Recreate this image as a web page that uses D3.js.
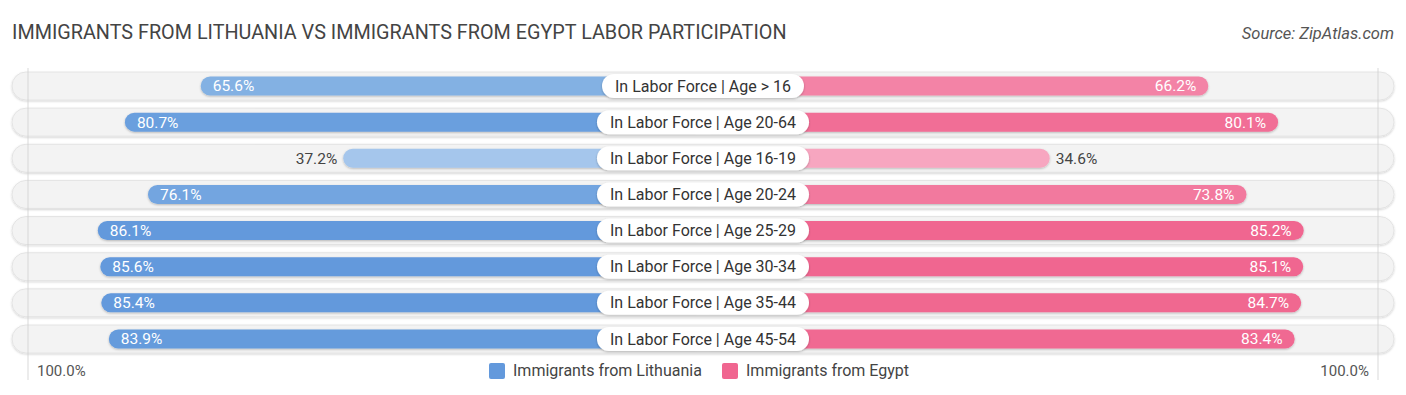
<!DOCTYPE html>
<html>
<head>
<meta charset="utf-8">
<title>Immigrants from Lithuania vs Immigrants from Egypt Labor Participation</title>
<style>
  body { margin: 0; background: #fff; }
  text { font-family: Roboto, "Open Sans", sans-serif; }
</style>
</head>
<body>
<script src="https://d3js.org/d3.v7.min.js"></script>
<script>
// data
var categories = ["In Labor Force | Age > 16", "In Labor Force | Age 20-64", "In Labor Force | Age 16-19",
                  "In Labor Force | Age 20-24", "In Labor Force | Age 25-29", "In Labor Force | Age 30-34",
                  "In Labor Force | Age 35-44", "In Labor Force | Age 45-54"];
var lithuania = [65.6, 80.7, 37.2, 76.1, 86.1, 85.6, 85.4, 83.9];
var egypt     = [66.2, 80.1, 34.6, 73.8, 85.2, 85.1, 84.7, 83.4];
var seriesNames = ["Immigrants from Lithuania", "Immigrants from Egypt"];
var axisLabels = ["100.0%", "100.0%"];

var W = 1406, H = 395, cx = 703;
var rowY = d3.scalePoint().domain(d3.range(categories.length)).range([86, 339]);
var len = d3.scaleLinear().domain([0, 100]).range([173, 675]);

var blueC = d3.scaleLinear().domain([30, 70, 85]).range(["#adcbee", "#7eaee2", "#6399dc"]).clamp(true);
var pinkC = d3.scaleLinear().domain([30, 70, 85]).range(["#f7abc4", "#f37fa3", "#f06690"]).clamp(true);

var svg = d3.select("body").append("svg").attr("width", W).attr("height", H);

var defs = svg.append("defs");
var f = defs.append("filter").attr("id", "sh").attr("x", "-10%").attr("y", "-30%").attr("width", "120%").attr("height", "170%");
f.append("feDropShadow").attr("dx", 0).attr("dy", 1).attr("stdDeviation", 1).attr("flood-color", "#000").attr("flood-opacity", 0.25);
var f2 = defs.append("filter").attr("id", "tsh").attr("x", "-5%").attr("y", "-30%").attr("width", "110%").attr("height", "170%");
f2.append("feDropShadow").attr("dx", 0).attr("dy", 1).attr("stdDeviation", 1.2).attr("flood-color", "#000").attr("flood-opacity", 0.18);

svg.append("text").attr("x", 12).attr("y", 39).text("IMMIGRANTS FROM LITHUANIA VS IMMIGRANTS FROM EGYPT LABOR PARTICIPATION")
  .style("font-size", "19.8px").style("fill", "#444");
svg.append("text").attr("x", 1394).attr("y", 39).attr("text-anchor", "end").text("Source: ZipAtlas.com")
  .style("font-size", "16.5px").style("font-style", "italic").style("fill", "#555");

var rows = svg.selectAll("g.row").data(categories).enter().append("g").attr("class", "row")
  .attr("transform", function(d, i) { return "translate(0," + rowY(i) + ")"; });

rows.append("rect").attr("x", 12).attr("y", -14).attr("width", 1382).attr("height", 28).attr("rx", 14)
  .style("fill", "#f3f3f3").style("stroke", "#e0e0e0").style("stroke-width", 0.8).attr("filter", "url(#tsh)");

// faint 100% guide lines
[cx - len(100), cx + len(100)].forEach(function(x) {
  svg.append("line").attr("x1", x).attr("x2", x).attr("y1", 68).attr("y2", 380)
    .style("stroke", "#cfcfcf").style("stroke-width", 0.8);
});

var bh = 19;
rows.append("rect").attr("x", function(d, i) { return cx - len(lithuania[i]); }).attr("y", -bh / 2)
  .attr("width", function(d, i) { return len(lithuania[i]); }).attr("height", bh).attr("rx", bh / 2)
  .style("fill", function(d, i) { return blueC(lithuania[i]); }).attr("filter", "url(#sh)");
rows.append("rect").attr("x", cx).attr("y", -bh / 2)
  .attr("width", function(d, i) { return len(egypt[i]); }).attr("height", bh).attr("rx", bh / 2)
  .style("fill", function(d, i) { return pinkC(egypt[i]); }).attr("filter", "url(#sh)");

rows.append("text").attr("dy", "0.35em")
  .attr("x", function(d, i) { var l = cx - len(lithuania[i]); return lithuania[i] > 50 ? l + 12 : l - 6; })
  .attr("text-anchor", function(d, i) { return lithuania[i] > 50 ? "start" : "end"; })
  .style("fill", function(d, i) { return lithuania[i] > 50 ? "#fff" : "#444"; })
  .style("font-size", "15.5px")
  .text(function(d, i) { return lithuania[i].toFixed(1) + "%"; });
rows.append("text").attr("dy", "0.35em")
  .attr("x", function(d, i) { var r = cx + len(egypt[i]); return egypt[i] > 50 ? r - 12 : r + 6; })
  .attr("text-anchor", function(d, i) { return egypt[i] > 50 ? "end" : "start"; })
  .style("fill", function(d, i) { return egypt[i] > 50 ? "#fff" : "#444"; })
  .style("font-size", "15.5px")
  .text(function(d, i) { return egypt[i].toFixed(1) + "%"; });

// category pills
rows.each(function(d) {
  var g = d3.select(this);
  var pill = g.append("rect").attr("y", -12).attr("height", 24).attr("rx", 12)
    .style("fill", "#fff").attr("filter", "url(#sh)");
  var t = g.append("text").attr("x", cx).attr("dy", "0.35em").attr("text-anchor", "middle")
    .style("font-size", "16px").style("fill", "#333").text(d);
  var w = t.node().getComputedTextLength() + 26;
  pill.attr("x", cx - w / 2).attr("width", w);
});

// bottom axis labels + legend
var by = 371;
svg.append("text").attr("x", 37).attr("y", by + 5).text(axisLabels[0]).style("font-size", "15px").style("fill", "#555");
svg.append("text").attr("x", 1369).attr("y", by + 5).attr("text-anchor", "end").text(axisLabels[1]).style("font-size", "15px").style("fill", "#555");

var legend = svg.append("g");
var lx = [489, 722], lc = ["#6399dc", "#f06690"];
seriesNames.forEach(function(n, i) {
  legend.append("rect").attr("x", lx[i]).attr("y", by - 8).attr("width", 16).attr("height", 16).attr("rx", 2).style("fill", lc[i]);
  legend.append("text").attr("x", lx[i] + 24).attr("y", by + 5).text(n).style("font-size", "16px").style("fill", "#444");
});
</script>
</body>
</html>
